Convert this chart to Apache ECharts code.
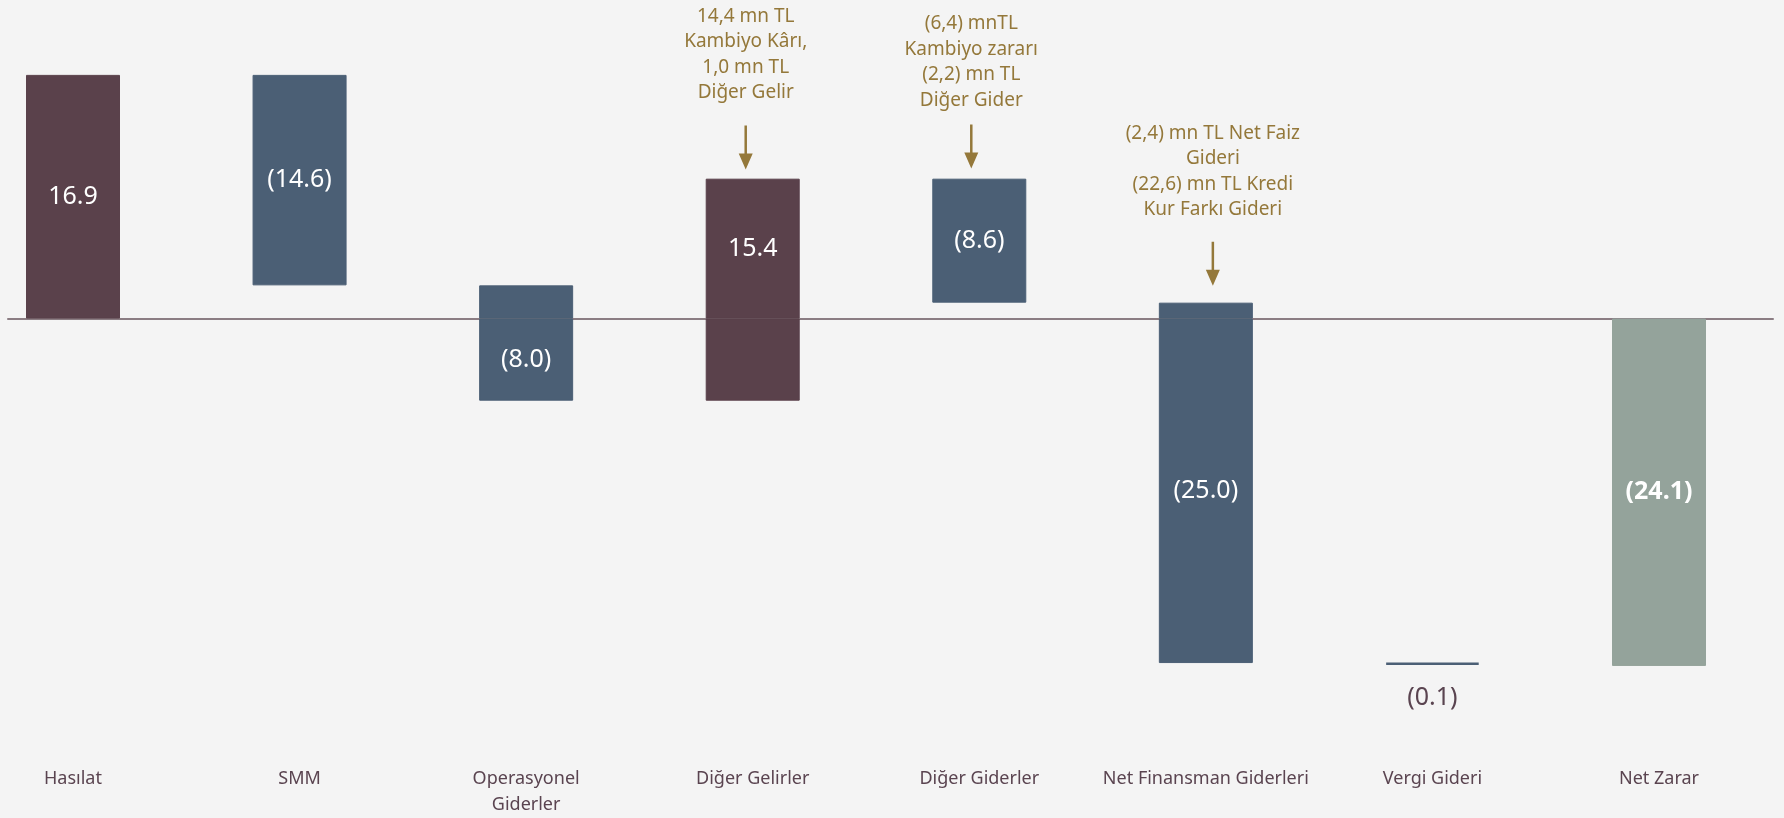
<!DOCTYPE html>
<html>
<head>
<meta charset="utf-8">
<script src="https://cdn.jsdelivr.net/npm/echarts@6/dist/echarts.min.js"></script>
<style>
html,body{margin:0;padding:0;background:#f4f4f4;}
#c{width:1784px;height:818px;}
</style>
</head>
<body>
<div id="c"></div>
<script>
// ---- data ----
const categories = ['Hasılat', 'SMM', 'Operasyonel\nGiderler', 'Diğer Gelirler', 'Diğer Giderler', 'Net Finansman Giderleri', 'Vergi Gideri', 'Net Zarar'];
const deltas = [16.9, -14.6, -8.0, 15.4, -8.6, -25.0, -0.1, -24.1];
const kinds = ['inc', 'dec', 'dec', 'inc', 'dec', 'dec', 'dec', 'total'];
const valueLabels = ['16.9', '(14.6)', '(8.0)', '15.4', '(8.6)', '(25.0)', '(0.1)', '(24.1)'];
// annotations: category index, text, text anchor value, arrow centre value
const noteCats = [3, 4, 5];
const noteTexts = [
  '14,4 mn TL\nKambiyo Kârı,\n1,0 mn TL\nDiğer Gelir',
  '(6,4) mnTL\nKambiyo zararı\n(2,2) mn TL\nDiğer Gider',
  '(2,4) mn TL Net Faiz\nGideri\n(22,6) mn TL Kredi\nKur Farkı Gideri'
];
const noteTextAt = [18.3, 17.8, 10.2];
const arrowAt = [11.86, 11.93, 3.8];

// ---- styles ----
const colorOf = {inc: '#5a414b', dec: '#4b5f75', total: '#94a39b'};
const gold = '#94783a';
const textCol = '#5a4450';
const FONT = 'Noto Sans';
const noteShift = [-7, -8, 7];
const arrowPath = 'path://M5.75,0 L8.25,0 L8.25,28 L14,28 L7,44 L0,28 L5.75,28 Z';

// ---- waterfall build ----
const posBase = [], posVal = [], negBase = [], negVal = [];
let run = 0;
deltas.forEach((d, i) => {
  let s, e;
  if (kinds[i] === 'total') { s = 0; e = d; } else { s = run; e = run + d; run = e; }
  const lo = Math.min(s, e), hi = Math.max(s, e);
  const pb = Math.max(0, lo), pv = Math.max(0, hi) - Math.max(0, lo);
  const nb = Math.min(0, hi), nv = Math.min(0, lo) - Math.min(0, hi);
  const c = colorOf[kinds[i]];
  const onPos = pv >= -nv;
  const bold = kinds[i] === 'total' ? 'bold' : 'normal';
  posBase.push(pb);
  negBase.push(nb);
  posVal.push(pv === 0 ? '-' : {value: pv, itemStyle: {color: c, borderColor: c},
    label: {show: onPos, fontWeight: bold}});
  const small = Math.abs(nv) < 0.5 && !onPos;
  negVal.push(nv === 0 ? '-' : {value: nv, itemStyle: {color: c, borderColor: c, borderWidth: small ? 2.5 : 1},
    label: small ? {show: true, position: 'bottom', distance: 20, color: textCol}
                 : {show: !onPos, fontWeight: bold}});
});

const labelFmt = p => valueLabels[p.dataIndex];
const baseLabel = {show: false, position: 'inside', color: '#ffffff', fontSize: 25, fontFamily: FONT, formatter: labelFmt};

const markPointData = [];
noteCats.forEach((ci, k) => {
  markPointData.push({
    coord: [ci, noteTextAt[k]],
    symbol: 'circle', symbolSize: 0,
    label: {show: true, position: 'inside', formatter: noteTexts[k], color: gold, fontSize: 19, lineHeight: 25.5, fontFamily: FONT, align: 'center', offset: [noteShift[k], 0]}
  });
  markPointData.push({
    coord: [ci, arrowAt[k]],
    symbol: arrowPath, symbolSize: [14, 44], symbolKeepAspect: false,
    symbolOffset: [noteShift[k], 0],
    itemStyle: {color: gold}, label: {show: false}
  });
});

const chart = echarts.init(document.getElementById('c'), null, {renderer: 'canvas'});
chart.setOption({
  backgroundColor: '#f4f4f4',
  animation: false,
  grid: [
    {left: 73, right: 125, top: 30.2, bottom: 65.8},
    {left: 8, right: 11, top: 30.2, bottom: 65.8}
  ],
  xAxis: [
    {type: 'category', gridIndex: 0, data: categories, boundaryGap: false,
     axisLine: {show: false, onZero: false}, axisTick: {show: false},
     axisLabel: {color: textCol, fontSize: 18, fontFamily: FONT, lineHeight: 26, margin: 15, interval: 0}},
    {type: 'category', gridIndex: 1, data: [''], boundaryGap: false,
     axisLine: {show: true, onZero: true, lineStyle: {color: '#8b7d83', width: 2}},
     axisTick: {show: false}, axisLabel: {show: false}}
  ],
  yAxis: [
    {type: 'value', gridIndex: 0, min: -30, max: 20, show: false, splitLine: {show: false}},
    {type: 'value', gridIndex: 1, min: -30, max: 20, show: false, splitLine: {show: false}}
  ],
  series: [
    {name: 'posBase', type: 'bar', stack: 'w', barWidth: 94, data: posBase,
     itemStyle: {color: 'transparent'}, silent: true},
    {name: 'posVal', type: 'bar', stack: 'w', barWidth: 94, data: posVal,
     itemStyle: {borderWidth: 1}, label: baseLabel,
     markPoint: {silent: true, data: markPointData}},
    {name: 'negBase', type: 'bar', stack: 'w', barWidth: 94, data: negBase,
     itemStyle: {color: 'transparent'}, silent: true},
    {name: 'negVal', type: 'bar', stack: 'w', barWidth: 94, data: negVal,
     itemStyle: {borderWidth: 1}, label: baseLabel}
  ]
});
</script>
</body>
</html>
